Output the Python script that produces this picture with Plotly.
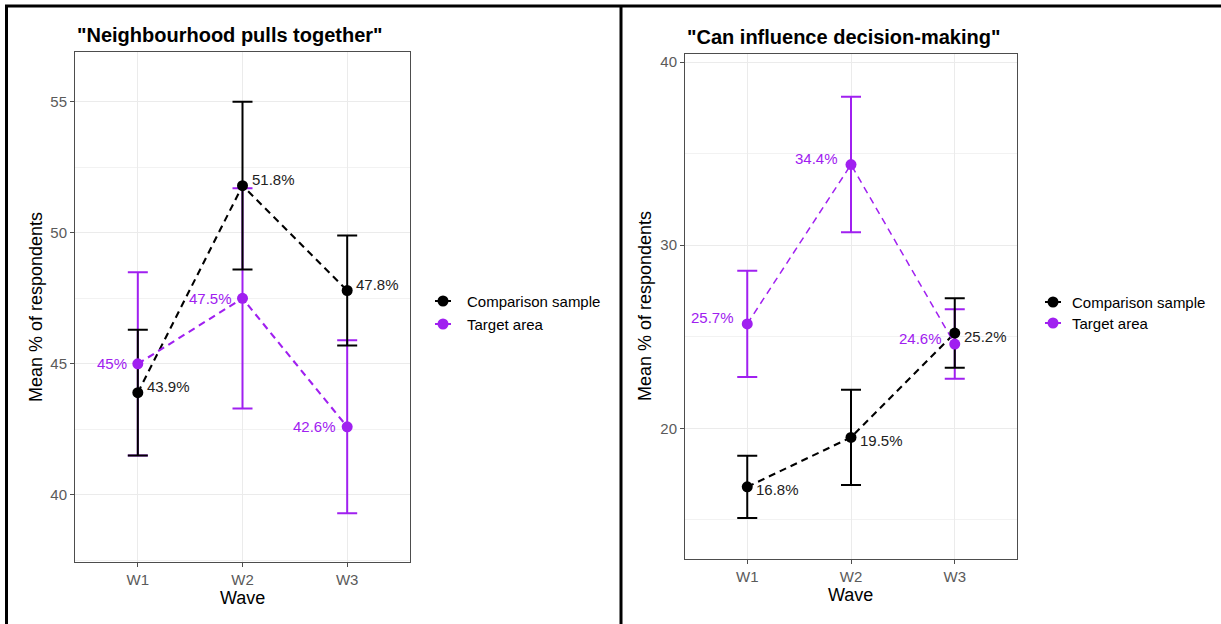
import plotly.graph_objects as go

# ---- data -------------------------------------------------------------
waves = ["W1", "W2", "W3"]

# "Neighbourhood pulls together"
pull_comparison = [43.9, 51.8, 47.8]
pull_comparison_err = [2.4, 3.2, 2.1]
pull_target = [45.0, 47.5, 42.6]
pull_target_err = [3.5, 4.2, 3.3]

# "Can influence decision-making"
infl_comparison = [16.8, 19.5, 25.2]
infl_comparison_err = [1.7, 2.6, 1.9]
infl_target = [25.7, 34.4, 24.6]
infl_target_err = [2.9, 3.7, 1.9]

panel_titles = ['"Neighbourhood pulls together"', '"Can influence decision-making"']
series_names = ["Comparison sample", "Target area"]

# ---- styling ----------------------------------------------------------
W, H = 1221, 624
BLACK = "#000000"
PURPLE = "#A020F0"
FONT = "Liberation Sans, Arial, sans-serif"


def px_x(p):
    return p / W


def px_y(p):
    return 1 - p / H


fig = go.Figure()


def add_panel(xa, ya, comp, comp_err, targ, targ_err, comp_w, targ_w):
    # error bars (target first, comparison on top)
    for vals, errs, col in ((targ, targ_err, PURPLE), (comp, comp_err, BLACK)):
        fig.add_trace(go.Scatter(
            x=waves, y=vals, mode="markers",
            marker=dict(size=1, opacity=0),
            error_y=dict(type="data", array=errs, visible=True,
                         color=col, thickness=2, width=10),
            xaxis=xa, yaxis=ya, showlegend=False, hoverinfo="skip"))
    # dashed connecting lines
    fig.add_trace(go.Scatter(
        x=waves, y=comp, mode="lines",
        line=dict(color=BLACK, width=comp_w, dash="7px,5px"),
        xaxis=xa, yaxis=ya, showlegend=False, hoverinfo="skip"))
    fig.add_trace(go.Scatter(
        x=waves, y=targ, mode="lines",
        line=dict(color=PURPLE, width=targ_w, dash="7px,5px"),
        xaxis=xa, yaxis=ya, showlegend=False, hoverinfo="skip"))
    # points
    for vals, col in ((comp, BLACK), (targ, PURPLE)):
        fig.add_trace(go.Scatter(
            x=waves, y=vals, mode="markers",
            marker=dict(size=11, color=col),
            xaxis=xa, yaxis=ya, showlegend=False, hoverinfo="skip"))


add_panel("x", "y", pull_comparison, pull_comparison_err,
          pull_target, pull_target_err, 2.1, 2.1)
add_panel("x2", "y2", infl_comparison, infl_comparison_err,
          infl_target, infl_target_err, 2.1, 1.5)

annotations = []


def fmt(v):
    return f"{v:g}%"


def add_value_labels(xr, yr, comp, targ, comp_dy, targ_dx, targ_dy):
    for w, v in zip(waves, comp):
        annotations.append(dict(
            x=w, y=v, xref=xr, yref=yr, text=fmt(v), showarrow=False,
            xanchor="left", yanchor="middle", xshift=7, yshift=comp_dy,
            font=dict(family=FONT, size=15, color="#222222")))
    for w, v in zip(waves, targ):
        annotations.append(dict(
            x=w, y=v, xref=xr, yref=yr, text=fmt(v), showarrow=False,
            xanchor="right", yanchor="middle", xshift=targ_dx, yshift=targ_dy,
            font=dict(family=FONT, size=15, color=PURPLE)))


add_value_labels("x", "y", pull_comparison, pull_target, 6, -9, 0)
add_value_labels("x2", "y2", infl_comparison, infl_target, -3, -11, 6)

# panel titles, axis titles
for title, x0, yc in ((panel_titles[0], 75, 35), (panel_titles[1], 685, 37)):
    annotations.append(dict(
        x=px_x(x0), y=px_y(yc), xref="paper", yref="paper", text=f"<b>{title}</b>",
        showarrow=False, xanchor="left", yanchor="middle",
        font=dict(family=FONT, size=20, color="#000000")))

for xc, yc in ((242, 598), (850, 595)):
    annotations.append(dict(
        x=px_x(xc), y=px_y(yc), xref="paper", yref="paper", text="Wave",
        showarrow=False, xanchor="center", yanchor="middle",
        font=dict(family=FONT, size=18, color="#000000")))

for xc, yc in ((36, 307), (645, 306)):
    annotations.append(dict(
        x=px_x(xc), y=px_y(yc), xref="paper", yref="paper",
        text="Mean % of respondents", textangle=-90,
        showarrow=False, xanchor="center", yanchor="middle",
        font=dict(family=FONT, size=18, color="#000000")))

# legends
shapes = []
for mx, tx, ys in ((443, 465, (301, 324)), (1053, 1070, (302, 323))):
    for name, col, yy in zip(series_names, (BLACK, PURPLE), ys):
        shapes.append(dict(type="line", xref="paper", yref="paper",
                           x0=px_x(mx - 8), x1=px_x(mx + 8), y0=px_y(yy), y1=px_y(yy),
                           line=dict(color=col, width=2)))
        shapes.append(dict(type="circle", xref="paper", yref="paper",
                           x0=px_x(mx - 5.5), x1=px_x(mx + 5.5),
                           y0=px_y(yy + 5.5), y1=px_y(yy - 5.5),
                           fillcolor=col, line=dict(color=col, width=0)))
        annotations.append(dict(
            x=px_x(tx), y=px_y(yy), xref="paper", yref="paper", text=name,
            showarrow=False, xanchor="left", yanchor="middle",
            font=dict(family=FONT, size=15, color="#000000")))

# outer table frame
frame = dict(color="#000000", width=3)
shapes.append(dict(type="line", xref="paper", yref="paper",
                   x0=px_x(5), x1=1, y0=px_y(6), y1=px_y(6), line=frame))
shapes.append(dict(type="line", xref="paper", yref="paper",
                   x0=px_x(6.5), x1=px_x(6.5), y0=px_y(5), y1=0, line=frame))
shapes.append(dict(type="line", xref="paper", yref="paper",
                   x0=px_x(621), x1=px_x(621), y0=px_y(5), y1=0, line=frame))

xaxis_common = dict(
    type="category", categoryorder="array", categoryarray=waves,
    range=[-0.6, 2.6], showgrid=True, gridcolor="#EBEBEB", gridwidth=1,
    showline=True, linecolor="#4D4D4D", linewidth=1, mirror=True,
    ticks="outside", ticklen=4, tickcolor="#4D4D4D",
    tickfont=dict(family=FONT, size=15, color="#5A5A5A"),
    zeroline=False, automargin=False, fixedrange=True)
yaxis_common = dict(
    showgrid=True, gridcolor="#EBEBEB", gridwidth=1,
    showline=True, linecolor="#4D4D4D", linewidth=1, mirror=True,
    ticks="outside", ticklen=4, tickcolor="#4D4D4D",
    tickfont=dict(family=FONT, size=15, color="#5A5A5A"),
    zeroline=False, automargin=False, fixedrange=True)

fig.update_layout(
    width=W, height=H,
    margin=dict(l=0, r=0, t=0, b=0),
    paper_bgcolor="white", plot_bgcolor="white",
    showlegend=False,
    xaxis=dict(xaxis_common, domain=[px_x(75), px_x(410)], anchor="y"),
    yaxis=dict(yaxis_common, domain=[px_y(562), px_y(52)], anchor="x",
               range=[37.44, 56.9], tickvals=[40, 45, 50, 55],
               minor=dict(dtick=2.5, tick0=0, showgrid=True, gridcolor="#F2F2F2",
                          gridwidth=1, ticks="")),
    xaxis2=dict(xaxis_common, domain=[px_x(685), px_x(1017)], anchor="y2"),
    yaxis2=dict(yaxis_common, domain=[px_y(559), px_y(54)], anchor="x2",
                range=[12.86, 40.44], tickvals=[20, 30, 40],
                minor=dict(dtick=5, tick0=0, showgrid=True, gridcolor="#F2F2F2",
                           gridwidth=1, ticks="")),
    annotations=annotations,
    shapes=shapes,
)

fig.write_html("out.html")
